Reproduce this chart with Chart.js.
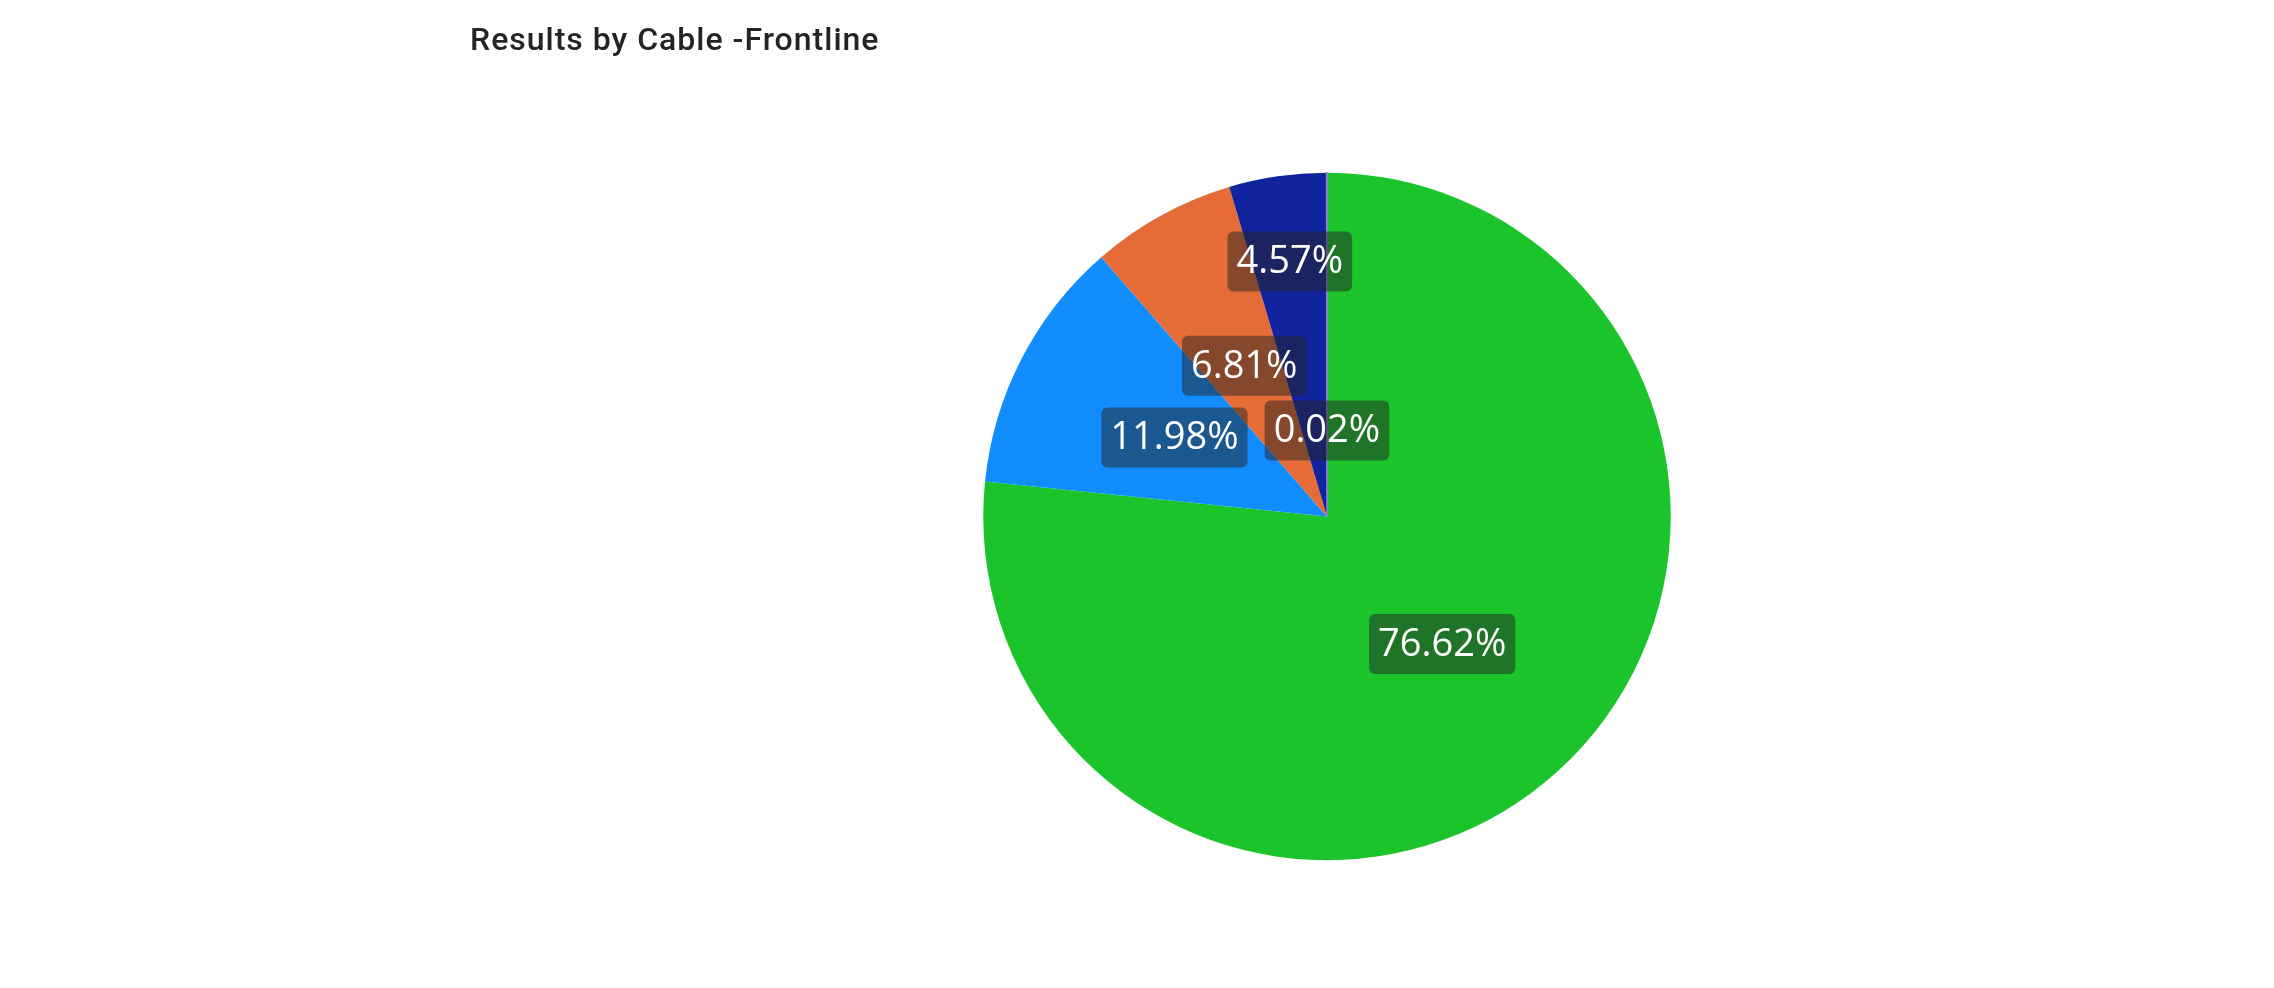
<!DOCTYPE html>
<html>
<head>
<meta charset="utf-8">
<script src="https://cdn.jsdelivr.net/npm/chart.js@4"></script>
<style>
  html, body { margin: 0; padding: 0; background: #fff; }
  #wrap { position: relative; width: 2274px; height: 988px; }
  #title {
    position: absolute; left: 470px; top: 20px;
    font-family: Roboto, sans-serif; font-size: 32px; font-weight: 500; color: #252423;
    letter-spacing: 1px; white-space: nowrap;
  }
</style>
</head>
<body>
<div id="wrap">
  <div id="title">Results by Cable -Frontline</div>
  <canvas id="chart" width="2274" height="988"></canvas>
</div>
<script>
const labels = ["Cable 1", "Cable 2", "Cable 3", "Cable 4", "Cable 5"];
const shares = [76.62, 11.98, 6.81, 4.57, 0.02];
const colors = ["#1AC42A", "#118DFF", "#E66C37", "#12239E", "#8F84D4"];

// where each label box sits, as a fraction of the radius
const labelRadius = [0.5, 0.5, 0.5, 0.75, 0.25];

const boxLabels = {
	id: "boxLabels",
	afterDatasetsDraw(chart) {
		const ctx = chart.ctx;
		const meta = chart.getDatasetMeta(0);
		ctx.save();
		ctx.font = "38px 'Open Sans', sans-serif";
		ctx.textAlign = "center";
		ctx.textBaseline = "middle";
		meta.data.forEach((arc, i) => {
			const p = arc.getProps(["x", "y", "startAngle", "endAngle", "outerRadius"], true);
			const mid = (p.startAngle + p.endAngle) / 2;
			const r = p.outerRadius * labelRadius[i];
			const x = p.x + Math.cos(mid) * r;
			const y = p.y + Math.sin(mid) * r;
			const text = shares[i].toFixed(2) + "%";
			const w = ctx.measureText(text).width + 18;
			const h = 60;
			ctx.fillStyle = "rgba(37, 36, 35, 0.5)";
			ctx.beginPath();
			ctx.roundRect(x - w / 2, y - h / 2, w, h, 6);
			ctx.fill();
			ctx.fillStyle = "#ffffff";
			ctx.fillText(text, x, y + 1);
		});
		ctx.restore();
	},
};

const data = {
	labels,
	datasets: [
		{
			data: shares,
			backgroundColor: colors,
			borderColor: colors,
			borderWidth: [0, 0, 0, 0, 1.5],
		},
	],
};

const options = {
	responsive: false,
	animation: false,
	layout: {
		padding: { left: 982, right: 602, top: 172, bottom: 127 },
	},
	plugins: {
		legend: { display: false },
		tooltip: { enabled: false },
	},
};

new Chart(document.querySelector("#chart"), {
	type: "pie",
	data,
	options,
	plugins: [boxLabels],
});
</script>
</body>
</html>
